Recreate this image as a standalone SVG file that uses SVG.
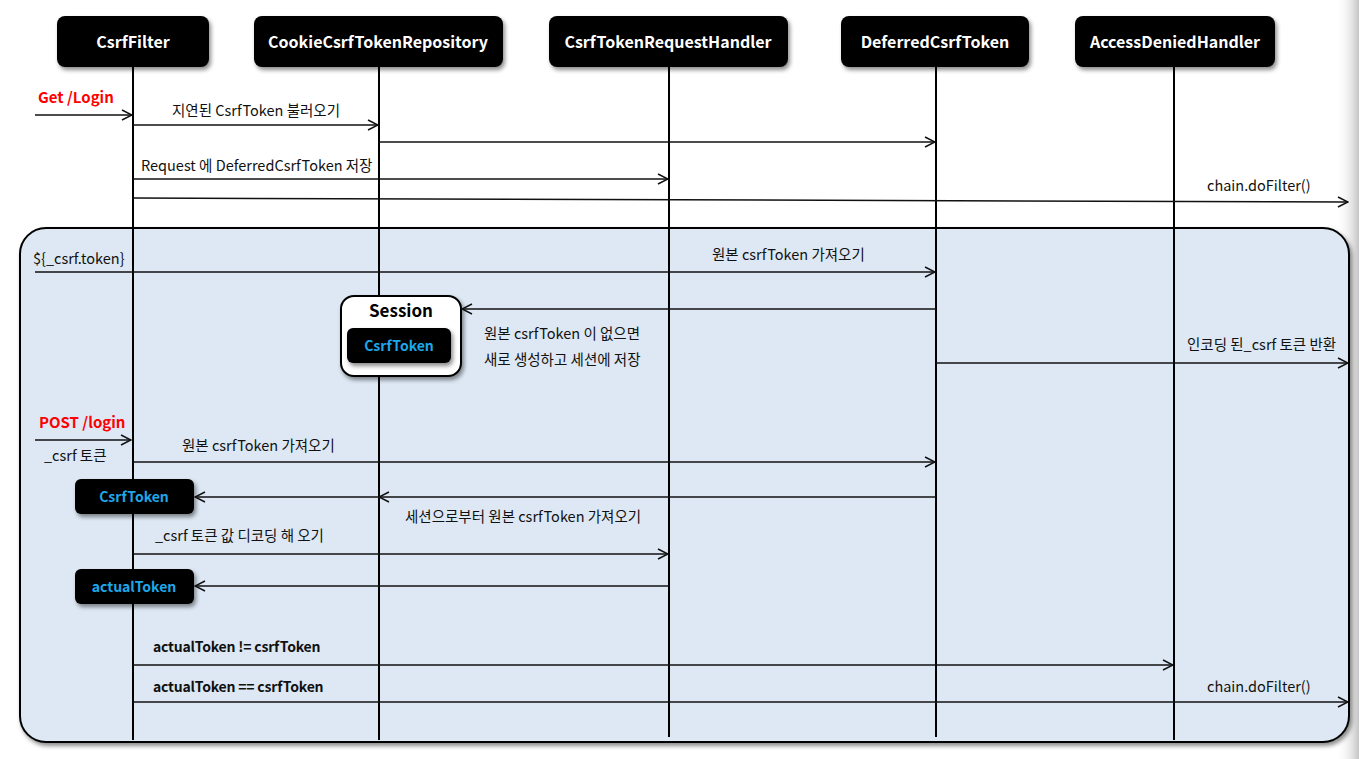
<svg xmlns="http://www.w3.org/2000/svg" width="1359" height="759" viewBox="0 0 1359 759">
<defs>
<filter id="sh" x="-10%" y="-10%" width="130%" height="140%"><feDropShadow dx="2" dy="3" stdDeviation="2" flood-color="#000" flood-opacity="0.45"/></filter>
<linearGradient id="edge" x1="0" y1="0" x2="1" y2="0"><stop offset="0" stop-color="#ffffff" stop-opacity="0"/><stop offset="1" stop-color="#c4c4c4"/></linearGradient>
<marker id="arr" viewBox="0 0 12 12" refX="11" refY="6" markerWidth="12" markerHeight="12" markerUnits="userSpaceOnUse" orient="auto"><path d="M1,1 L11,6 L1,11" fill="none" stroke="#111" stroke-width="1.5"/></marker>
</defs>
<style>
.hdr{fill:#000;filter:url(#sh)}
.hdrt{fill:#fff;font-family:"Noto Sans CJK KR","Liberation Sans",sans-serif;font-size:16px;font-weight:bold;text-anchor:middle}
.life{stroke:#000;stroke-width:2;fill:none}
.msg{stroke:#111;stroke-width:1.5;fill:none;marker-end:url(#arr)}
.lbl{fill:#111;font-family:"Noto Sans CJK KR","Liberation Sans",sans-serif;font-size:14.5px}
.red{fill:#ff0000;font-weight:bold;font-size:15px}
.bold{font-weight:bold;font-size:14px;letter-spacing:-0.2px}
.tok{fill:#000;filter:url(#sh)}
.tokt{fill:#1ea7e8;font-family:"Noto Sans CJK KR","Liberation Sans",sans-serif;font-size:14px;font-weight:bold;text-anchor:middle}
</style>
<rect x="0" y="0" width="1359" height="759" fill="#fff"/>
<rect x="1336" y="0" width="23" height="759" fill="url(#edge)"/>
<g id="frame">
<rect x="20" y="228" width="1329" height="514" rx="26" ry="26" fill="#dde8f4" stroke="#000" stroke-width="2" filter="url(#sh)"/>
</g>
<g id="lifelines">
<line class="life" x1="133" y1="67" x2="133" y2="740"/>
<line class="life" x1="379" y1="67" x2="379" y2="740"/>
<line class="life" x1="669" y1="67" x2="669" y2="737"/>
<line class="life" x1="936" y1="67" x2="936" y2="737"/>
<line class="life" x1="1174" y1="67" x2="1174" y2="740"/>
</g>
<g id="CsrfFilter"><rect class="hdr" x="57" y="16" width="152" height="51" rx="8"/><text class="hdrt" x="133" y="48">CsrfFilter</text></g>
<g id="CookieCsrfTokenRepository"><rect class="hdr" x="254" y="16" width="249" height="51" rx="8"/><text class="hdrt" x="378" y="48">CookieCsrfTokenRepository</text></g>
<g id="CsrfTokenRequestHandler"><rect class="hdr" x="549" y="16" width="239" height="51" rx="8"/><text class="hdrt" x="668" y="48">CsrfTokenRequestHandler</text></g>
<g id="DeferredCsrfToken"><rect class="hdr" x="841" y="16" width="188" height="51" rx="8"/><text class="hdrt" x="935" y="48">DeferredCsrfToken</text></g>
<g id="AccessDeniedHandler"><rect class="hdr" x="1075" y="16" width="200" height="51" rx="8"/><text class="hdrt" x="1175" y="48">AccessDeniedHandler</text></g>
<g id="Session">
<rect x="341" y="296" width="120" height="80" rx="13" fill="#fff" stroke="#000" stroke-width="2" filter="url(#sh)"/>
<text x="401" y="317" font-family="'Noto Sans CJK KR','Liberation Sans',sans-serif" font-size="17" font-weight="bold" fill="#000" text-anchor="middle">Session</text>
<rect class="tok" x="347" y="328" width="104" height="35" rx="6"/>
<text class="tokt" x="399" y="351">CsrfToken</text>
</g>
<g id="CsrfTokenBox"><rect class="tok" x="75" y="479" width="119" height="35" rx="6"/><text class="tokt" x="134" y="502">CsrfToken</text></g>
<g id="actualTokenBox"><rect class="tok" x="75" y="569" width="119" height="35" rx="6"/><text class="tokt" x="134" y="592">actualToken</text></g>
<g id="connectors">
<line class="msg" x1="35" y1="115" x2="132" y2="115"/>
<line class="msg" x1="133" y1="125" x2="378" y2="125"/>
<line class="msg" x1="379" y1="142" x2="935" y2="142"/>
<line class="msg" x1="133" y1="179" x2="668" y2="179"/>
<line class="msg" x1="133" y1="198" x2="1348" y2="202"/>
<line class="msg" x1="35" y1="272" x2="935" y2="272"/>
<line class="msg" x1="936" y1="309" x2="462" y2="309"/>
<line class="msg" x1="936" y1="363" x2="1348" y2="363"/>
<line class="msg" x1="35" y1="440" x2="131" y2="440"/>
<line class="msg" x1="133" y1="462" x2="935" y2="462"/>
<line class="msg" x1="936" y1="497" x2="379" y2="497"/>
<line class="msg" x1="379" y1="497" x2="195" y2="497"/>
<line class="msg" x1="133" y1="554" x2="668" y2="554"/>
<line class="msg" x1="669" y1="586" x2="195" y2="586"/>
<line class="msg" x1="133" y1="665" x2="1173" y2="665"/>
<line class="msg" x1="133" y1="702" x2="1348" y2="702"/>
</g>
<g id="labels">
<text class="lbl red" x="38" y="103">Get /Login</text>
<text class="lbl" x="172" y="116">지연된 CsrfToken 불러오기</text>
<text class="lbl" x="141" y="171">Request 에 DeferredCsrfToken 저장</text>
<text class="lbl" x="1207" y="191">chain.doFilter()</text>
<text class="lbl" x="33" y="264">${_csrf.token}</text>
<text class="lbl" x="712" y="260">원본 csrfToken 가져오기</text>
<text class="lbl" x="484" y="339">원본 csrfToken 이 없으면</text>
<text class="lbl" x="484" y="365">새로 생성하고 세션에 저장</text>
<text class="lbl" x="1187" y="350">인코딩 된_csrf 토큰 반환</text>
<text class="lbl red" x="39" y="428">POST /login</text>
<text class="lbl" x="44" y="461">_csrf 토큰</text>
<text class="lbl" x="182" y="451">원본 csrfToken 가져오기</text>
<text class="lbl" x="405" y="522">세션으로부터 원본 csrfToken 가져오기</text>
<text class="lbl" x="155" y="541">_csrf 토큰 값 디코딩 해 오기</text>
<text class="lbl bold" x="153" y="652">actualToken != csrfToken</text>
<text class="lbl bold" x="153" y="692">actualToken == csrfToken</text>
<text class="lbl" x="1207" y="692">chain.doFilter()</text>
</g>
</svg>
